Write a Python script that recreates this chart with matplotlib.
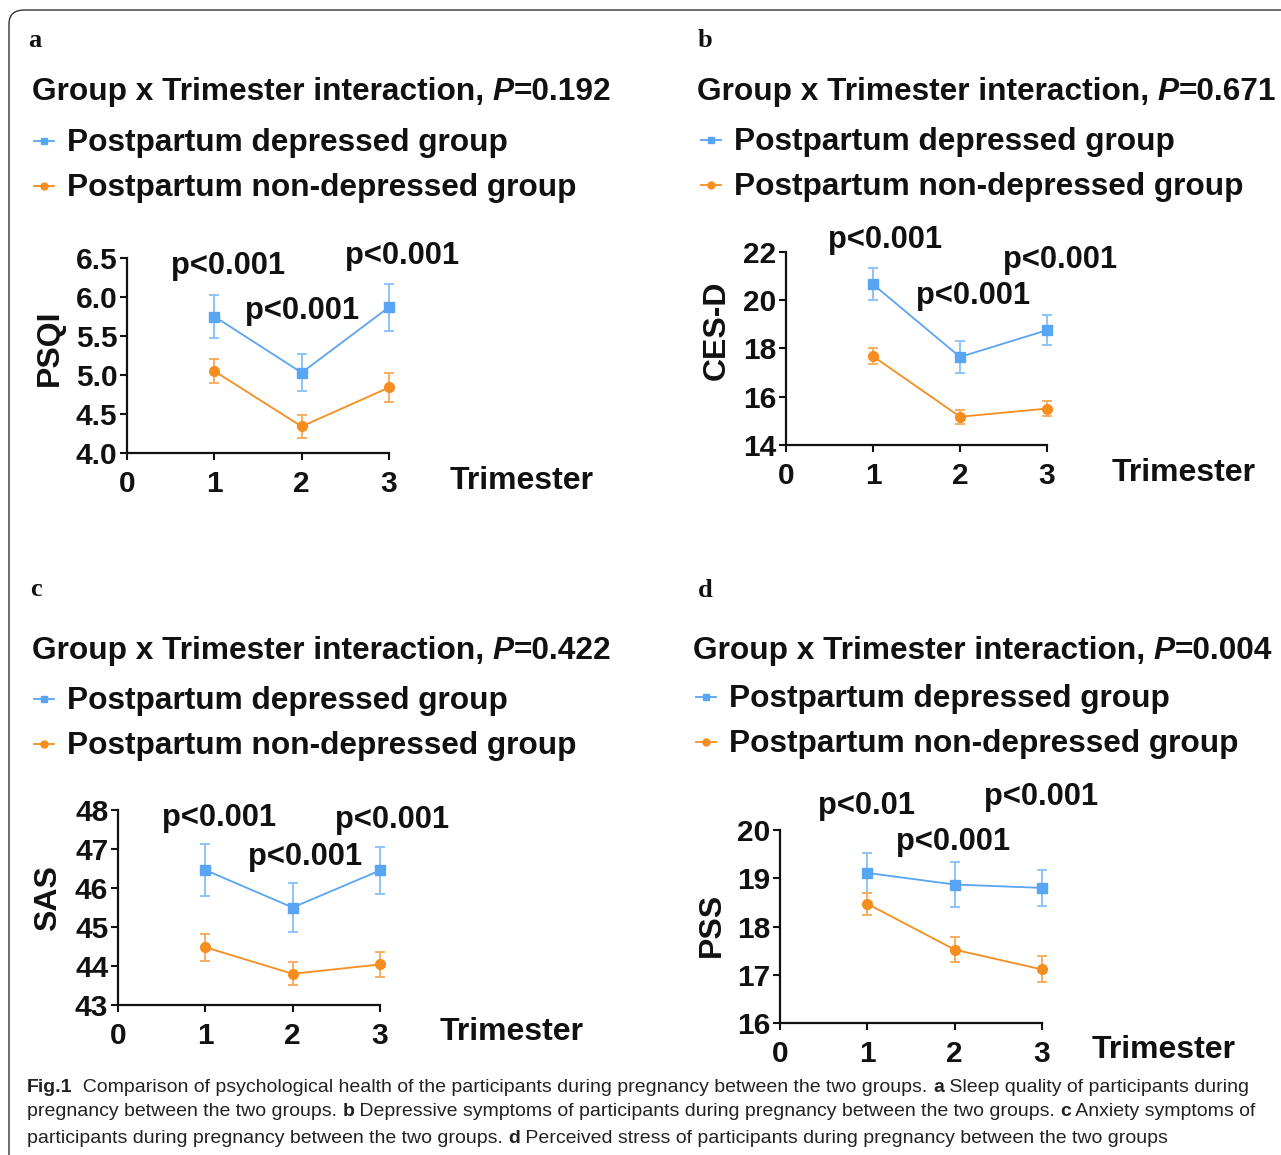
import matplotlib
matplotlib.use('Agg')
import matplotlib.pyplot as plt
from matplotlib.lines import Line2D
from matplotlib.patches import FancyBboxPatch

W, H = 1281, 1155
SANS = 'Liberation Sans'
SERIF = 'Liberation Serif'

# ---------------- data ----------------
trimesters = [1, 2, 3]
group_names = ['Postpartum depressed group', 'Postpartum non-depressed group']

psqi_dep = [5.75, 5.03, 5.87]
psqi_dep_err = [0.27, 0.24, 0.30]
psqi_non = [5.05, 4.34, 4.84]
psqi_non_err = [0.15, 0.15, 0.18]

cesd_dep = [20.66, 17.65, 18.76]
cesd_dep_err = [0.66, 0.65, 0.63]
cesd_non = [17.68, 15.17, 15.51]
cesd_non_err = [0.34, 0.30, 0.32]

sas_dep = [46.46, 45.50, 46.45]
sas_dep_err = [0.67, 0.63, 0.61]
sas_non = [44.48, 43.80, 44.04]
sas_non_err = [0.35, 0.29, 0.31]

pss_dep = [19.11, 18.87, 18.80]
pss_dep_err = [0.41, 0.46, 0.38]
pss_non = [18.47, 17.52, 17.11]
pss_non_err = [0.23, 0.26, 0.27]

panel_letters = ['a', 'b', 'c', 'd']
interaction_p = ['0.192', '0.671', '0.422', '0.004']
pair_p = [['p<0.001', 'p<0.001', 'p<0.001'],
          ['p<0.001', 'p<0.001', 'p<0.001'],
          ['p<0.001', 'p<0.001', 'p<0.001'],
          ['p<0.01', 'p<0.001', 'p<0.001']]
ylabels = ['PSQI', 'CES-D', 'SAS', 'PSS']
yticks = [[4.0, 4.5, 5.0, 5.5, 6.0, 6.5],
          [14, 16, 18, 20, 22],
          [43, 44, 45, 46, 47, 48],
          [16, 17, 18, 19, 20]]
ytick_labels = [['4.0', '4.5', '5.0', '5.5', '6.0', '6.5'],
                ['14', '16', '18', '20', '22'],
                ['43', '44', '45', '46', '47', '48'],
                ['16', '17', '18', '19', '20']]
xticks = [0, 1, 2, 3]
xtick_labels = ['0', '1', '2', '3']
xlabel = 'Trimester'

dep_series = [(psqi_dep, psqi_dep_err), (cesd_dep, cesd_dep_err), (sas_dep, sas_dep_err), (pss_dep, pss_dep_err)]
non_series = [(psqi_non, psqi_non_err), (cesd_non, cesd_non_err), (sas_non, sas_non_err), (pss_non, pss_non_err)]

caption_lines = [
    [('Fig.1', True), ('  Comparison of psychological health of the participants during pregnancy between the two groups. ', False),
     ('a', True), (' Sleep quality of participants during', False)],
    [('pregnancy between the two groups. ', False), ('b', True),
     (' Depressive symptoms of participants during pregnancy between the two groups. ', False), ('c', True),
     (' Anxiety symptoms of', False)],
    [('participants during pregnancy between the two groups. ', False), ('d', True),
     (' Perceived stress of participants during pregnancy between the two groups', False)],
]

# ---------------- style / layout ----------------
BLUE = '#58a5f3'
BLUE_ERR = '#8ec3f7'
ORANGE = '#f68d1f'
ORANGE_ERR = '#f8ad62'
TXT = '#111111'

axes_px = [(127, 258, 389, 453), (786, 252, 1047, 445), (118, 810, 380, 1005), (780, 830, 1042, 1023)]
letter_px = [(28, 47), (698, 47), (30, 596), (698, 597)]
title_px = [(32, 100), (697, 100), (32, 659), (693, 659)]
legend_px = [(34, 151, 196), (701, 150, 195), (34, 709, 754), (696, 707, 752)]
pval_px = [[(228, 266), (302, 311), (402, 256)],
           [(885, 240), (973, 296), (1060, 260)],
           [(219, 818), (305, 857), (392, 820)],
           [(866, 806), (953, 842), (1041, 797)]]
ylabel_px = [(50, 348), (717, 330), (48, 898), (712, 925)]
xlabel_px = [(450, 481), (1112, 473), (440, 1032), (1092, 1050)]

fig = plt.figure(figsize=(W / 100, H / 100), dpi=100)
fig.patch.set_facecolor('white')
renderer = fig.canvas.get_renderer()


def fx(x):
    return x / W


def fy(y):
    return 1 - y / H


def draw_runs(x_px, y_px, parts, **common):
    x = x_px
    for s, kw in parts:
        t = fig.text(fx(x), fy(y_px), s, ha='left', va='baseline', **{**common, **kw})
        bb = t.get_window_extent(renderer=renderer)
        x += bb.width
    return x


border = FancyBboxPatch((fx(9), fy(1175)), fx(1300) - fx(9), fy(10) - fy(1175),
                        boxstyle='round,pad=0,rounding_size=0.012', transform=fig.transFigure,
                        fill=False, edgecolor='#333333', linewidth=1.0, clip_on=False)
fig.add_artist(border)

for i in range(4):
    l, t, r, b = axes_px[i]
    ax = fig.add_axes([fx(l), fy(b), (r - l) / W, (b - t) / H])
    ax.set_xlim(0, 3)
    ax.set_ylim(yticks[i][0], yticks[i][-1])
    for sp in ['top', 'right']:
        ax.spines[sp].set_visible(False)
    for sp in ['left', 'bottom']:
        ax.spines[sp].set_linewidth(1.6)
        ax.spines[sp].set_color(TXT)
    ax.set_yticks(yticks[i])
    ax.set_yticklabels(ytick_labels[i])
    ax.set_xticks(xticks)
    ax.set_xticklabels(xtick_labels)
    ax.tick_params(axis='y', direction='out', length=5, width=1.5, color=TXT, pad=2, labelcolor=TXT)
    ax.tick_params(axis='x', direction='out', length=5, width=1.5, color=TXT, pad=7, labelcolor=TXT)
    for lab in ax.get_yticklabels() + ax.get_xticklabels():
        lab.set_fontfamily(SANS)
        lab.set_fontweight('bold')
        lab.set_fontsize(21.5)
    ax.patch.set_alpha(0)

    yv, ye = dep_series[i]
    ax.errorbar(trimesters, yv, yerr=ye, color=BLUE, ecolor=BLUE_ERR, elinewidth=1.4, capsize=3.4,
                capthick=1.4, marker='s', markersize=7, linewidth=1.3, clip_on=False, zorder=3)
    yv, ye = non_series[i]
    ax.errorbar(trimesters, yv, yerr=ye, color=ORANGE, ecolor=ORANGE_ERR, elinewidth=1.4, capsize=3.4,
                capthick=1.4, marker='o', markersize=7, linewidth=1.3, clip_on=False, zorder=3)

    lx, ly = letter_px[i]
    fig.text(fx(lx), fy(ly), panel_letters[i], family=SERIF, weight='bold', fontsize=19,
             ha='left', va='baseline', color=TXT)
    tx, ty = title_px[i]
    draw_runs(tx, ty, [('Group x Trimester interaction, ', {}),
                       ('P', {'style': 'italic'}),
                       ('=' + interaction_p[i], {})],
              family=SANS, weight='bold', fontsize=22.8, color=TXT)
    mx, ly1, ly2 = legend_px[i]
    for (yy, col, mk, name) in [(ly1, BLUE, 's', group_names[0]), (ly2, ORANGE, 'o', group_names[1])]:
        yc = yy - 10
        fig.add_artist(Line2D([fx(mx), fx(mx + 20)], [fy(yc), fy(yc)], transform=fig.transFigure,
                              color=col, linewidth=1.3))
        fig.add_artist(Line2D([fx(mx + 10)], [fy(yc)], transform=fig.transFigure, color=col,
                              marker=mk, markersize=5, linestyle='none'))
        fig.text(fx(mx + 33), fy(yy), name, family=SANS, weight='bold', fontsize=22.8,
                 ha='left', va='baseline', color=TXT)
    for (px, py), s in zip(pval_px[i], pair_p[i]):
        fig.text(fx(px), fy(py), s, family=SANS, weight='bold', fontsize=22.2,
                 ha='center', va='center', color=TXT)
    yx, yy = ylabel_px[i]
    fig.text(fx(yx), fy(yy), ylabels[i], family=SANS, weight='bold', fontsize=23,
             rotation=90, ha='center', va='center', color=TXT)
    xx, xy = xlabel_px[i]
    fig.text(fx(xx), fy(xy), xlabel, family=SANS, weight='bold', fontsize=23,
             ha='left', va='center', color=TXT)

cap_y = [1092, 1116, 1143]
for line, yy in zip(caption_lines, cap_y):
    draw_runs(27, yy, [(s, {'weight': 'bold' if bold else 'normal'}) for s, bold in line],
              family=SANS, fontsize=14.0, color='#222222')

fig.savefig('out.png', dpi=100)
